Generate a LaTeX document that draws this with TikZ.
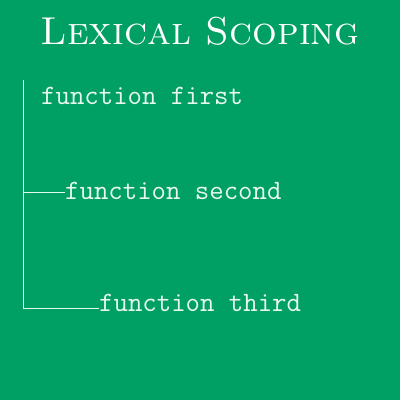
\documentclass[tikz,border=0pt]{standalone}
\definecolor{bggreen}{RGB}{0,160,100}
\definecolor{codewhite}{RGB}{232,248,238}
\begin{document}
\begin{tikzpicture}[x=1pt,y=-1pt,
  codetext/.style={anchor=base west,inner sep=0pt,text=codewhite,
    font=\ttfamily\fontsize{28}{31}\selectfont},
  treeline/.style={draw=codewhite,line width=0.9pt}]
\fill[bggreen] (0,0) rectangle (400,400);
\useasboundingbox (0,0) rectangle (400,400);
\node[anchor=base,inner sep=0pt,text=white,font=\fontsize{38.9}{43}\selectfont]
  (title) at (200,44) {\textsc{Lexical Scoping}};
\node[codetext] (first) at (41,104) {function first};
\node[codetext] (second) at (65,199) {function second};
\node[codetext] (third) at (99,311) {function third};
\coordinate (top) at (23,80);
\coordinate (corner) at (23,308);
\coordinate (branch) at (23,192);
\draw[treeline] (top) -- (corner) -- (corner -| third.west);
\draw[treeline] (branch) -- (branch -| second.west);
\end{tikzpicture}
\end{document}
